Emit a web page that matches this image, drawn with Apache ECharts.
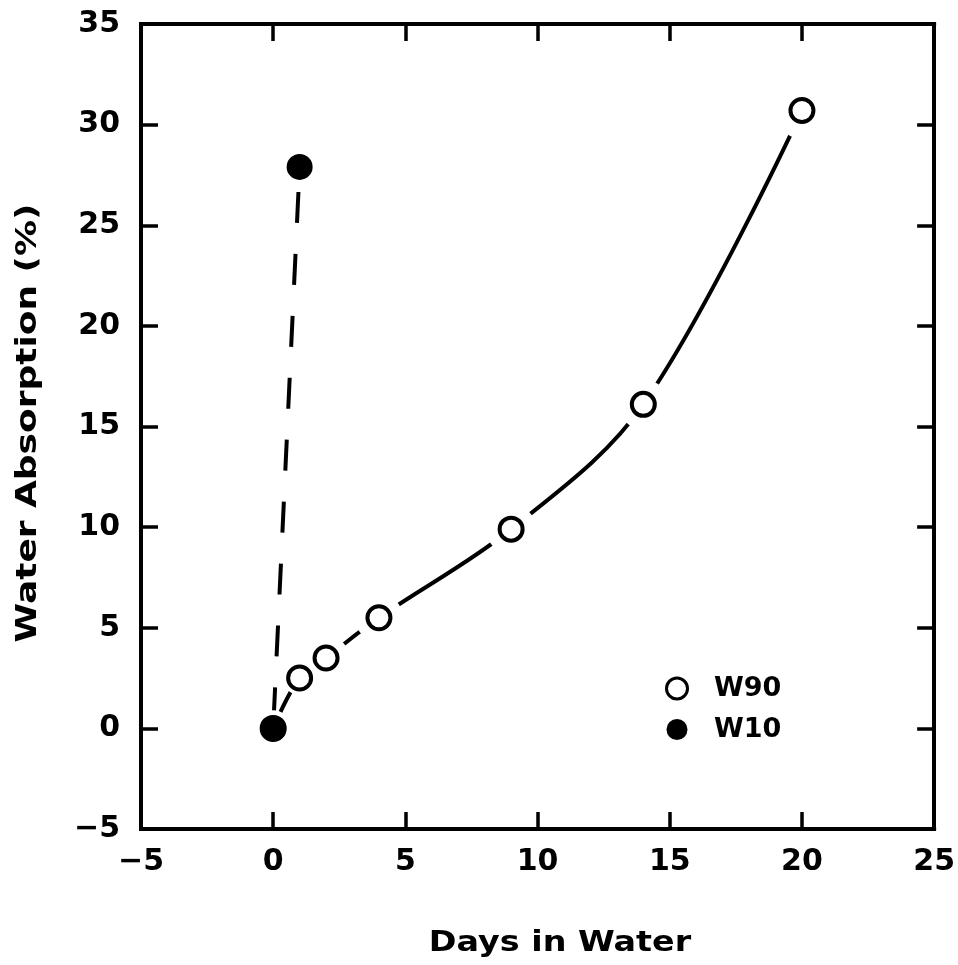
<!DOCTYPE html>
<html><head><meta charset="utf-8">
<script src="https://cdn.jsdelivr.net/npm/echarts@6/dist/echarts.min.js"></script>
<style>html,body{margin:0;padding:0;background:#fff}#c{width:958px;height:965px}</style>
</head><body><div id="c"></div><script>
// ---- data ----
const w90Days = [0, 1, 2, 4, 9, 14, 20];
const w90Abs  = [0, 2.5, 3.5, 5.5, 9.9, 16.1, 30.7];
const w10Days = [0, 1];
const w10Abs  = [0, 27.9];
const xTickValues = [-5, 0, 5, 10, 15, 20, 25];
const yTickValues = [-5, 0, 5, 10, 15, 20, 25, 30, 35];
const xTitle = 'Days in Water';
const yTitle = 'Water Absorption (%)';
const seriesNames = ['W90', 'W10'];

const w90 = w90Days.map((d, i) => [d, w90Abs[i]]);
const w10 = w10Days.map((d, i) => [d, w10Abs[i]]);

const FONT = '"DejaVu Sans", "Liberation Sans", sans-serif';
const fmt = v => String(v).replace('-', '\u2212');

const chart = echarts.init(document.getElementById('c'), null, {renderer: 'canvas'});

const tickStyle = {show: true, inside: true, length: 17, lineStyle: {color: '#000', width: 3.5}};
const lineStyle = {show: true, onZero: false, lineStyle: {color: '#000', width: 4, cap: 'square'}};

const xBase = {
  type: 'value', min: xTickValues[0], max: xTickValues[xTickValues.length - 1],
  interval: xTickValues[1] - xTickValues[0], splitLine: {show: false},
  axisLine: lineStyle, axisTick: tickStyle
};
const yBase = {
  type: 'value', min: yTickValues[0], max: yTickValues[yTickValues.length - 1],
  interval: yTickValues[1] - yTickValues[0], splitLine: {show: false},
  axisLine: lineStyle, axisTick: tickStyle
};

// white gap sizes around each W90 point (style)
const w90GapSizes = [36, 34, 46, 48, 50, 50, 56];

// curve drawn once (at the first item) through the axis scales
function curveRenderer(points, smooth, dash) {
  return function (params, api) {
    if (params.dataIndex !== 0) return null;
    const pts = points.map(p => api.coord(p));
    return {
      type: 'polyline',
      z2: 1,
      shape: {points: pts, smooth: smooth},
      style: {stroke: '#000', lineWidth: 4, fill: null, lineCap: dash ? 'butt' : 'round',
              lineDash: dash || null, lineDashOffset: dash ? 52 : 0}
    };
  };
}

chart.setOption({
  animation: false,
  backgroundColor: '#fff',
  grid: {left: 141, right: 23, top: 24, bottom: 136},
  xAxis: [
    Object.assign({}, xBase, {
      position: 'bottom',
      axisLabel: {show: true, margin: 18, color: '#000', fontFamily: FONT, fontWeight: 'bold', fontSize: 30, formatter: fmt}
    }),
    Object.assign({}, xBase, {position: 'top', axisLabel: {show: false}})
  ],
  yAxis: [
    Object.assign({}, yBase, {
      position: 'left',
      axisLabel: {show: true, margin: 21, color: '#000', fontFamily: FONT, fontWeight: 'bold', fontSize: 30, formatter: fmt}
    }),
    Object.assign({}, yBase, {position: 'right', axisLabel: {show: false}})
  ],
  legend: {
    data: [
      {name: seriesNames[0], itemStyle: {color: '#fff', borderColor: '#000', borderWidth: 3}},
      {name: seriesNames[1]}
    ],
    orient: 'vertical',
    left: 660, top: 670,
    itemWidth: 64, itemHeight: 21, itemGap: 14,
    symbolKeepAspect: true,
    selectedMode: false,
    textStyle: {color: '#000', fontFamily: FONT, fontWeight: 'bold', fontSize: 27}
  },
  graphic: [
    {type: 'text', x: 560, y: 943, scaleX: 1.15, silent: true,
     style: {text: xTitle, font: 'bold 29px ' + FONT, fill: '#000', align: 'center', verticalAlign: 'middle'}},
    {type: 'text', x: 28, y: 423, rotation: Math.PI / 2, scaleX: 1.24, silent: true,
     style: {text: yTitle, font: 'bold 29px ' + FONT, fill: '#000', align: 'center', verticalAlign: 'middle'}}
  ],
  series: [
    {name: 'W90 curve', type: 'custom', data: w90, z: 1, silent: true,
     renderItem: curveRenderer(w90, 0.35, null)},
    {name: 'W10 curve', type: 'custom', data: w10, z: 1, silent: true,
     renderItem: curveRenderer(w10, 0, [31, 31])},
    {name: 'W90 gap', type: 'scatter', symbol: 'circle', z: 10, silent: true,
     data: w90.map((p, i) => ({value: p, symbolSize: w90GapSizes[i]})),
     itemStyle: {color: '#ffffff', opacity: 1}},
    {name: 'W10 gap', type: 'scatter', symbol: 'circle', symbolSize: 36, z: 10, silent: true,
     data: w10,
     itemStyle: {color: '#ffffff', opacity: 1}},
    {name: 'W90', type: 'scatter', data: w90, symbol: 'circle', symbolSize: 23, z: 20,
     itemStyle: {color: '#fff', borderColor: '#000', borderWidth: 4, opacity: 1}},
    {name: 'W10', type: 'scatter', data: w10, symbol: 'circle', symbolSize: 26, z: 21,
     itemStyle: {color: '#000', opacity: 1}}
  ]
});
</script></body></html>
